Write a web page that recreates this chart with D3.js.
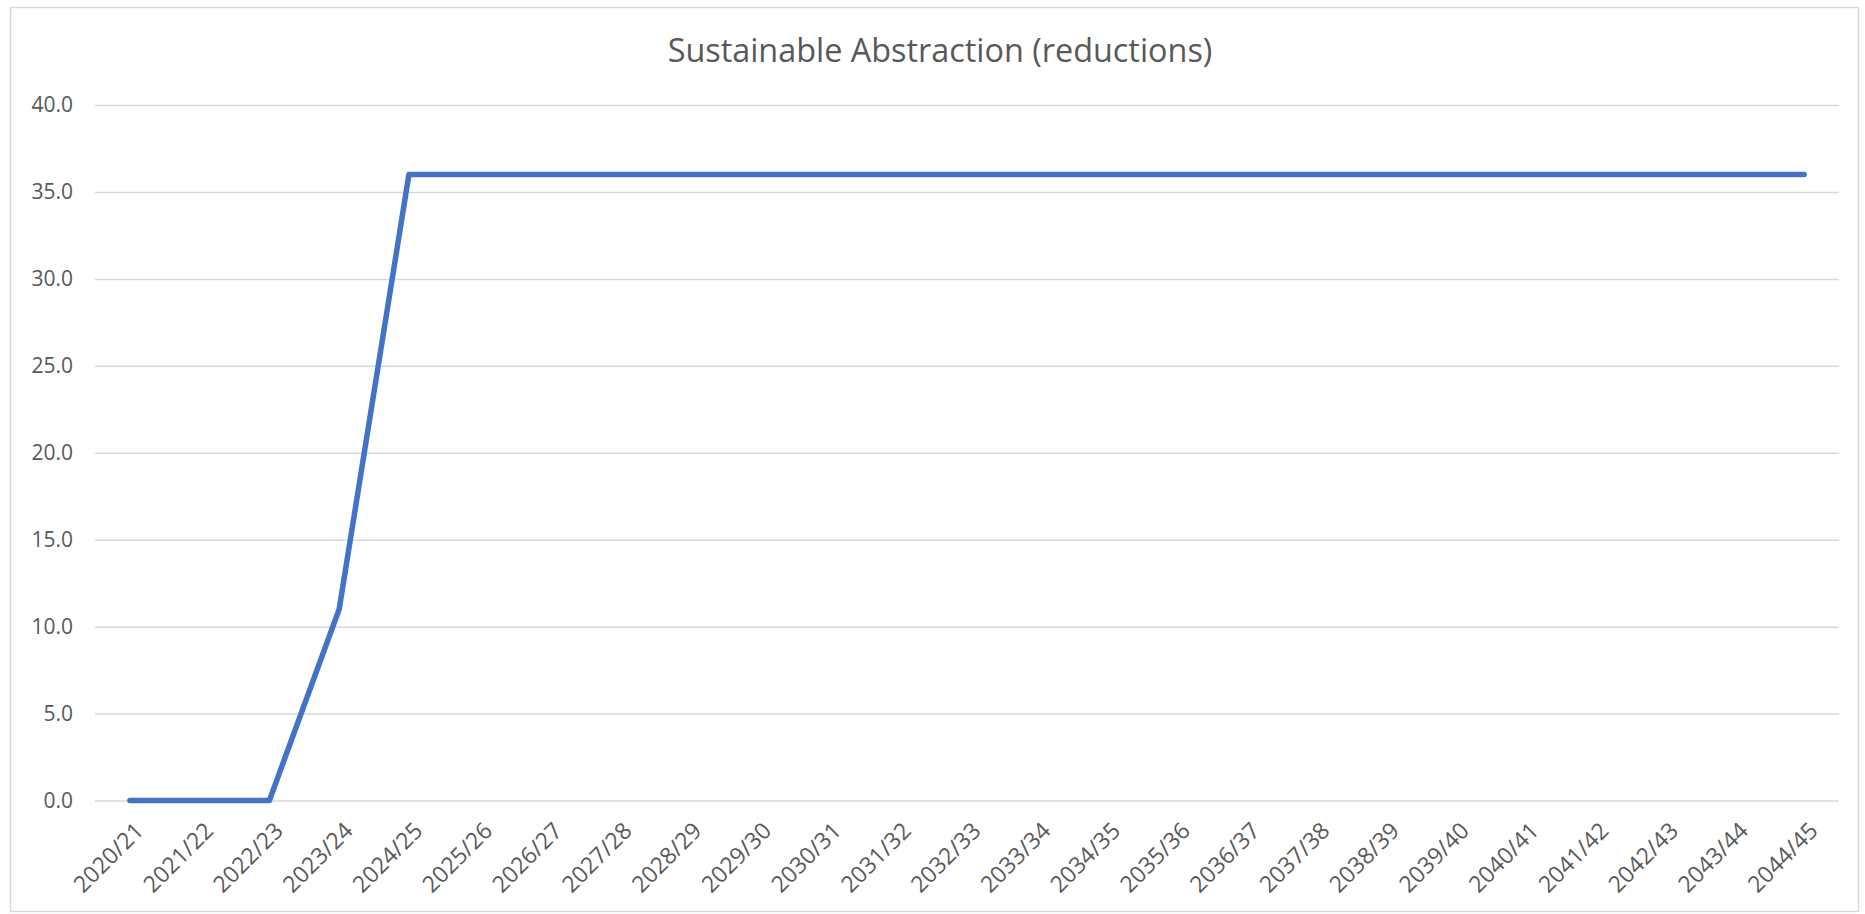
<!DOCTYPE html>
<html>
<head>
<meta charset="utf-8">
<script src="https://cdn.jsdelivr.net/npm/d3@7"></script>
<style>
  html, body { margin: 0; padding: 0; background: #fff; }
  svg { display: block; }
  text { font-family: "Open Sans", "Noto Sans", sans-serif; fill: #595959; }
</style>
</head>
<body>
<svg id="chart" width="1865" height="914"></svg>
<script>
const titleText = "Sustainable Abstraction (reductions)";
const categories = ["2020/21","2021/22","2022/23","2023/24","2024/25","2025/26","2026/27","2027/28","2028/29","2029/30","2030/31","2031/32","2032/33","2033/34","2034/35","2035/36","2036/37","2037/38","2038/39","2039/40","2040/41","2041/42","2042/43","2043/44","2044/45"];
const values = [0,0,0,11,36,36,36,36,36,36,36,36,36,36,36,36,36,36,36,36,36,36,36,36,36];
const yTicks = [0,5,10,15,20,25,30,35,40];

const W = 1865, H = 914;
const margin = { left: 95, right: W - 1839, top: 105, bottom: H - 800.5 };
const svg = d3.select("#chart");

// outer border
svg.append("rect")
  .attr("x", 10.5).attr("y", 7.5)
  .attr("width", 1848).attr("height", 904)
  .attr("fill", "#fff").attr("stroke", "#d9d9d9").attr("stroke-width", 1.5);

const x = d3.scalePoint().domain(categories)
  .range([margin.left, W - margin.right]).padding(0.5);
const y = d3.scaleLinear().domain([0, 40])
  .range([H - margin.bottom, margin.top]);

// gridlines
const yAxis = d3.axisLeft(y).tickValues(yTicks)
  .tickSize(-(W - margin.right - margin.left))
  .tickFormat(d3.format(".1f")).tickPadding(22);
const gy = svg.append("g").attr("transform", `translate(${margin.left},0)`).call(yAxis);
gy.select(".domain").remove();
gy.selectAll(".tick line").attr("stroke", "#d9d9d9").attr("stroke-width", 1.5);
gy.selectAll(".tick text").attr("font-size", 21).attr("fill", "#595959")
  .attr("font-family", "'Open Sans', sans-serif");

// x axis labels
const xAxis = d3.axisBottom(x).tickSize(0).tickPadding(0);
const gx = svg.append("g").attr("transform", `translate(0,${H - margin.bottom})`).call(xAxis);
gx.select(".domain").remove();
gx.selectAll(".tick text")
  .attr("font-size", 23).attr("fill", "#595959")
  .attr("font-family", "'Open Sans', sans-serif")
  .attr("text-anchor", "end")
  .attr("dy", "0.35em")
  .attr("transform", "translate(9,26) rotate(-45)");

// line
const line = d3.line().x((d, i) => x(categories[i])).y(d => y(d));
svg.append("path").datum(values)
  .attr("d", line)
  .attr("fill", "none")
  .attr("stroke", "#4472c4")
  .attr("stroke-width", 5.5)
  .attr("stroke-linejoin", "round")
  .attr("stroke-linecap", "round");

// title, fitted to measured width
const t = svg.append("text")
  .attr("x", 940).attr("y", 62)
  .attr("text-anchor", "middle")
  .attr("font-size", 28)
  .text(titleText);
const tw = t.node().getComputedTextLength();
t.attr("font-size", 28 * 545 / tw);
</script>
</body>
</html>
